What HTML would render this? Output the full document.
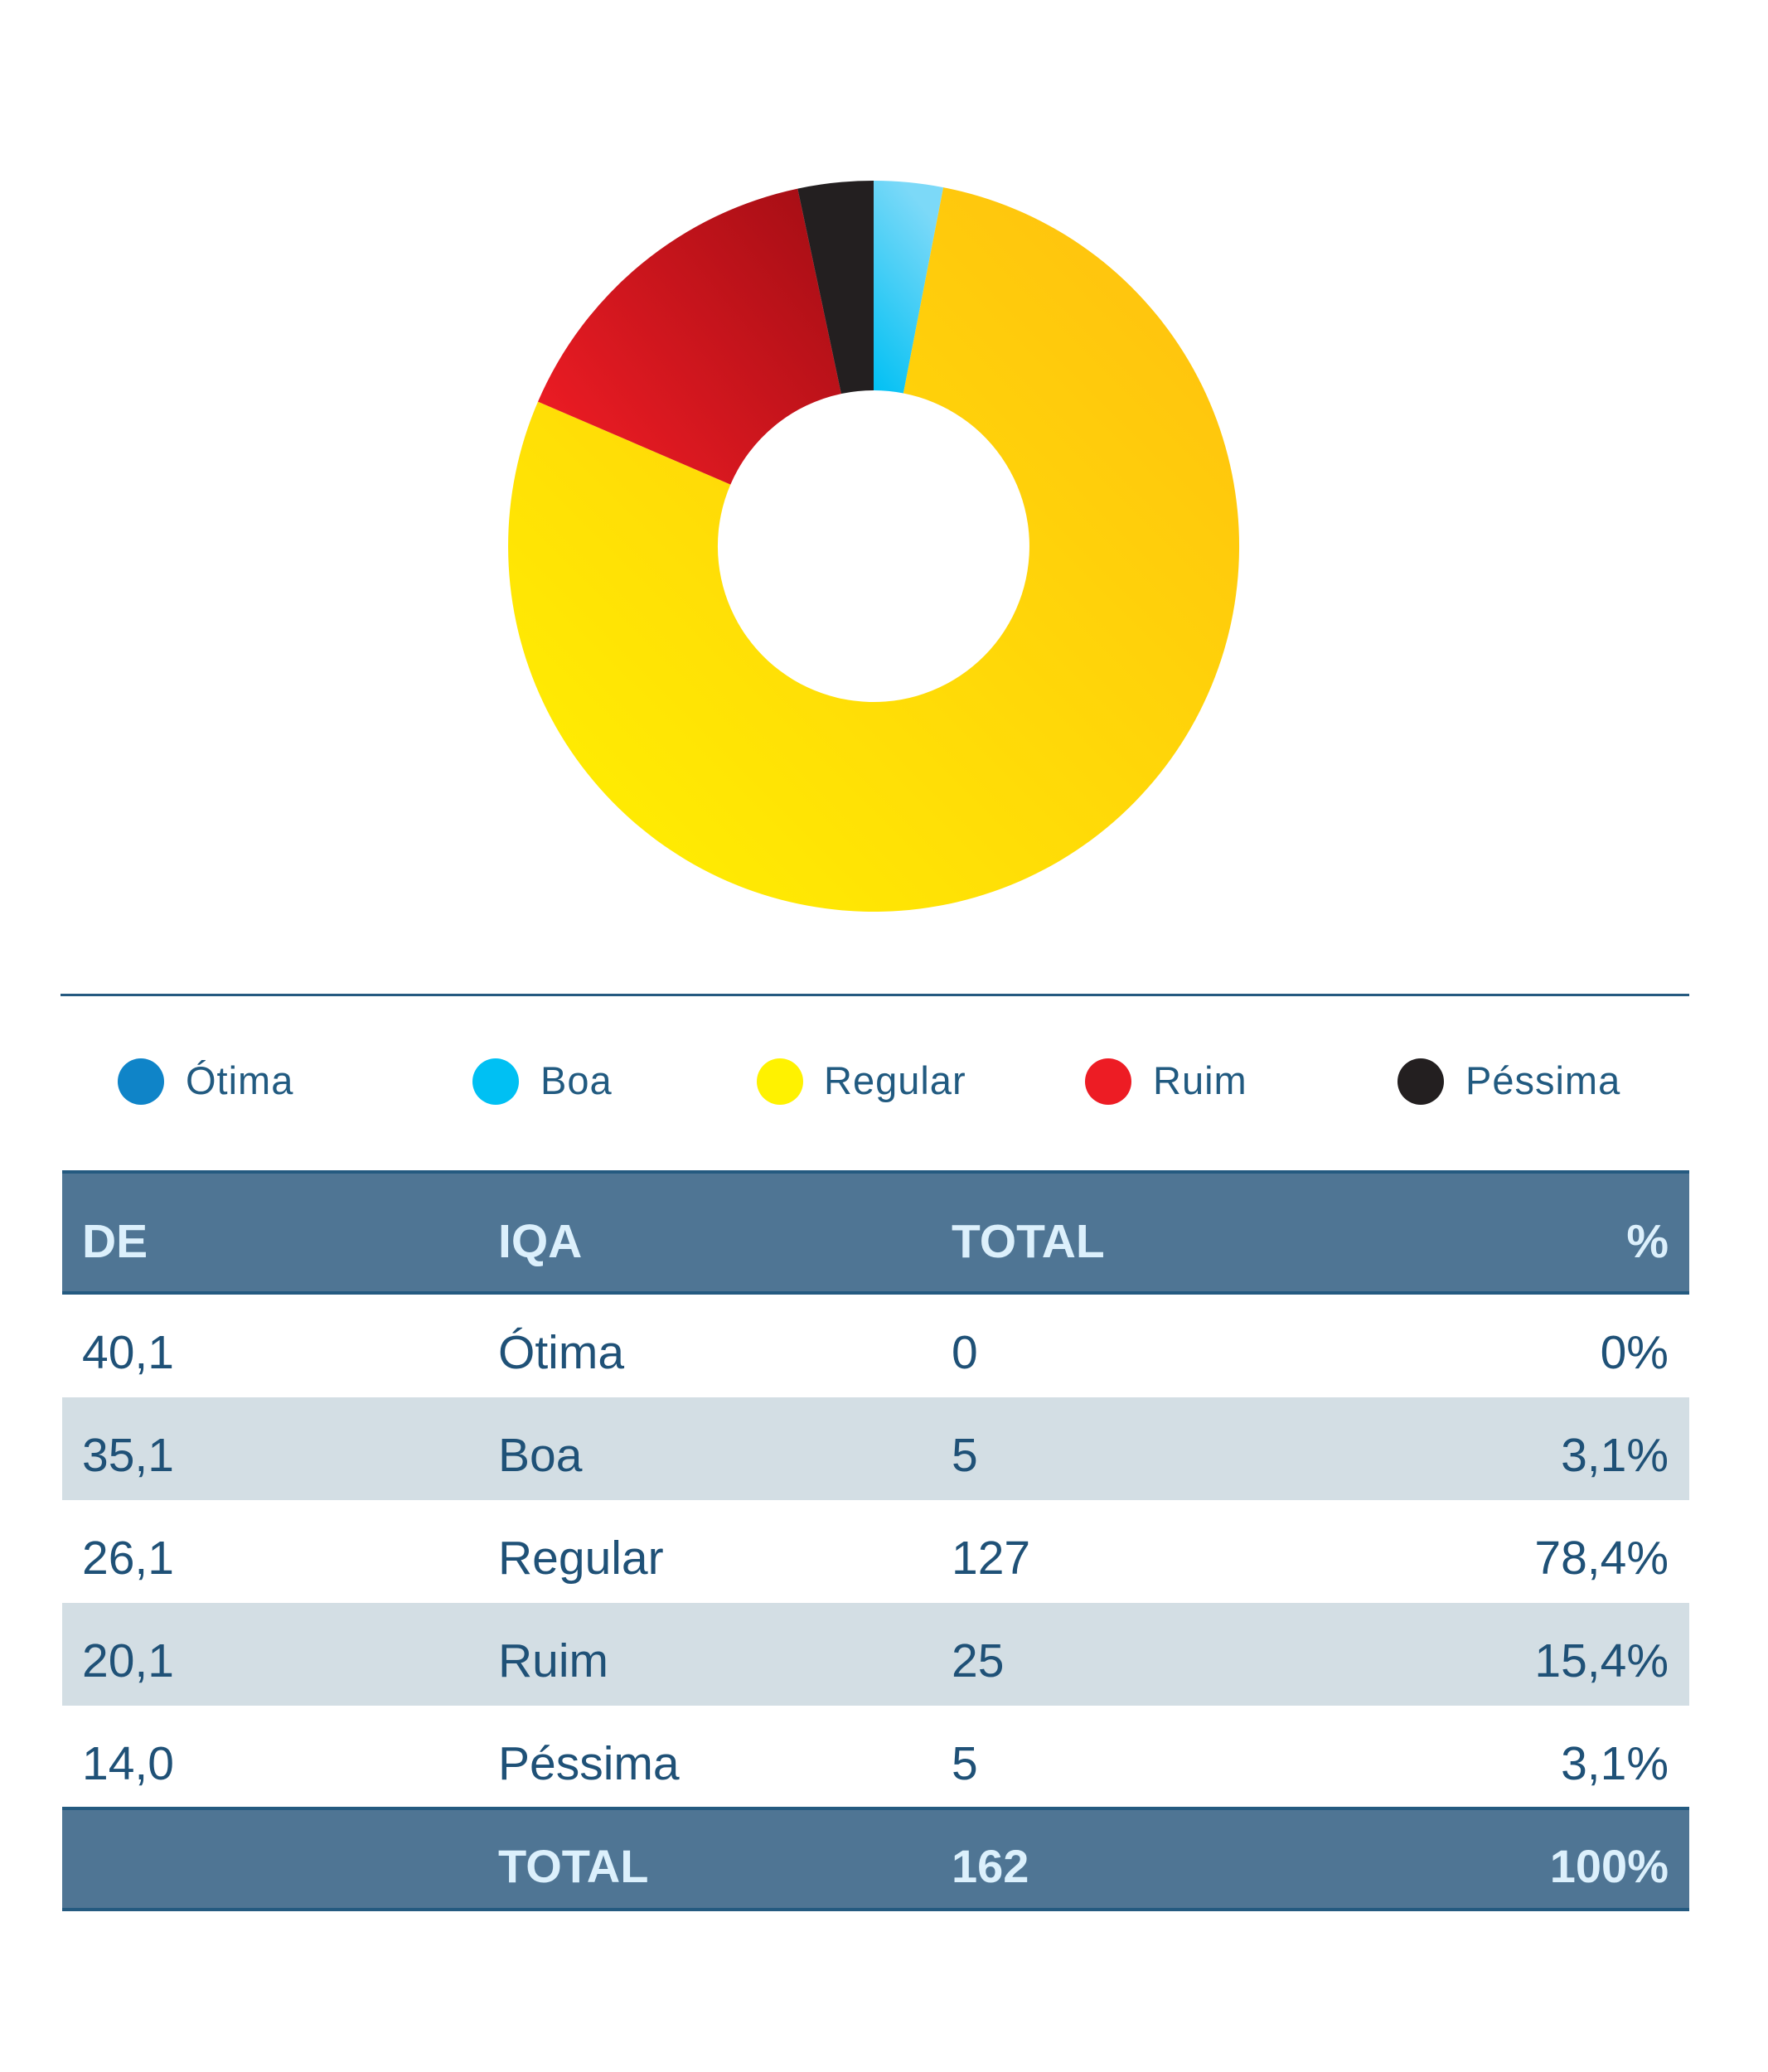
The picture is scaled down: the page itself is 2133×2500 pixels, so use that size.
<!DOCTYPE html>
<html><head><meta charset="utf-8"><style>
html,body{margin:0;padding:0;background:#fff;}
body{width:2133px;height:2500px;position:relative;overflow:hidden;font-family:"Liberation Sans",sans-serif;}
.abs{position:absolute;}
.lg{position:absolute;font-size:47px;color:#215a80;top:1276px;line-height:56px;letter-spacing:1px;}
.dot{position:absolute;width:56px;height:56px;border-radius:50%;top:1277px;}
.row{position:absolute;left:75px;width:1963px;height:124px;}
.t{position:absolute;font-size:57px;color:#1f5177;line-height:64px;}
.h{position:absolute;font-size:57px;font-weight:bold;color:#dcf0fc;line-height:64px;}
</style></head><body>
<svg class="abs" style="left:0;top:0" width="2133" height="1150">
<defs>
<linearGradient id="gy" x1="0" y1="1" x2="1" y2="0"><stop offset="0" stop-color="#fff200"/><stop offset="1" stop-color="#ffbe10"/></linearGradient>
<linearGradient id="gr" x1="0" y1="0.8" x2="1" y2="0"><stop offset="0" stop-color="#ed1c24"/><stop offset="1" stop-color="#a20d14"/></linearGradient>
<linearGradient id="gb" x1="0" y1="1" x2="0.4" y2="0"><stop offset="0" stop-color="#00c0f3"/><stop offset="1" stop-color="#7cd9f8"/></linearGradient>
</defs>
<g transform="translate(1054,659)">
<path fill="url(#gb)" d="M0,-441 A441,441 0 0 1 84.1,-432.9 L35.9,-184.5 A188,188 0 0 0 0,-188 Z"/>
<path fill="url(#gy)" d="M84.1,-432.9 A441,441 0 1 1 -405.0,-174.4 L-172.7,-74.4 A188,188 0 1 0 35.9,-184.5 Z"/>
<path fill="url(#gr)" d="M-405.0,-174.4 A441,441 0 0 1 -91.7,-431.4 L-39.1,-183.9 A188,188 0 0 0 -172.7,-74.4 Z"/>
<path fill="#231f20" d="M-91.7,-431.4 A441,441 0 0 1 0,-441 L0,-188 A188,188 0 0 0 -39.1,-183.9 Z"/>
</g>
</svg>
<div class="abs" style="left:73px;top:1199px;width:1965px;height:3px;background:#255a80"></div>

<div class="dot" style="left:142px;background:#0f84c8"></div><div class="lg" style="left:224px">Ótima</div>
<div class="dot" style="left:570px;background:#00c0f3"></div><div class="lg" style="left:652px">Boa</div>
<div class="dot" style="left:913px;background:#fff200"></div><div class="lg" style="left:994px">Regular</div>
<div class="dot" style="left:1309px;background:#ed1c24"></div><div class="lg" style="left:1391px">Ruim</div>
<div class="dot" style="left:1686px;background:#231f20"></div><div class="lg" style="left:1768px">Péssima</div>

<div class="abs" style="left:75px;top:1412px;width:1963px;height:150px;background:#4f7594;border-top:4px solid #245a80;border-bottom:4px solid #245a80;box-sizing:border-box"></div>
<div class="h" style="left:99px;top:1466px">DE</div>
<div class="h" style="left:601px;top:1466px">IQA</div>
<div class="h" style="left:1148px;top:1466px">TOTAL</div>
<div class="h" style="right:120px;top:1466px">%</div>

<div class="row" style="top:1686px;background:#d3dee4"></div>
<div class="row" style="top:1934px;background:#d3dee4"></div>

<div class="t" style="left:99px;top:1600px">40,1</div><div class="t" style="left:601px;top:1600px">Ótima</div><div class="t" style="left:1148px;top:1600px">0</div><div class="t" style="right:120px;top:1600px">0%</div>
<div class="t" style="left:99px;top:1724px">35,1</div><div class="t" style="left:601px;top:1724px">Boa</div><div class="t" style="left:1148px;top:1724px">5</div><div class="t" style="right:120px;top:1724px">3,1%</div>
<div class="t" style="left:99px;top:1848px">26,1</div><div class="t" style="left:601px;top:1848px">Regular</div><div class="t" style="left:1148px;top:1848px">127</div><div class="t" style="right:120px;top:1848px">78,4%</div>
<div class="t" style="left:99px;top:1972px">20,1</div><div class="t" style="left:601px;top:1972px">Ruim</div><div class="t" style="left:1148px;top:1972px">25</div><div class="t" style="right:120px;top:1972px">15,4%</div>
<div class="t" style="left:99px;top:2096px">14,0</div><div class="t" style="left:601px;top:2096px">Péssima</div><div class="t" style="left:1148px;top:2096px">5</div><div class="t" style="right:120px;top:2096px">3,1%</div>

<div class="abs" style="left:75px;top:2180px;width:1963px;height:126px;background:#4f7594;border-top:4px solid #245a80;border-bottom:4px solid #245a80;box-sizing:border-box"></div>
<div class="h" style="left:601px;top:2220px;font-size:56px">TOTAL</div>
<div class="h" style="left:1148px;top:2220px;font-size:56px">162</div>
<div class="h" style="right:120px;top:2220px;font-size:56px">100%</div>
</body></html>
